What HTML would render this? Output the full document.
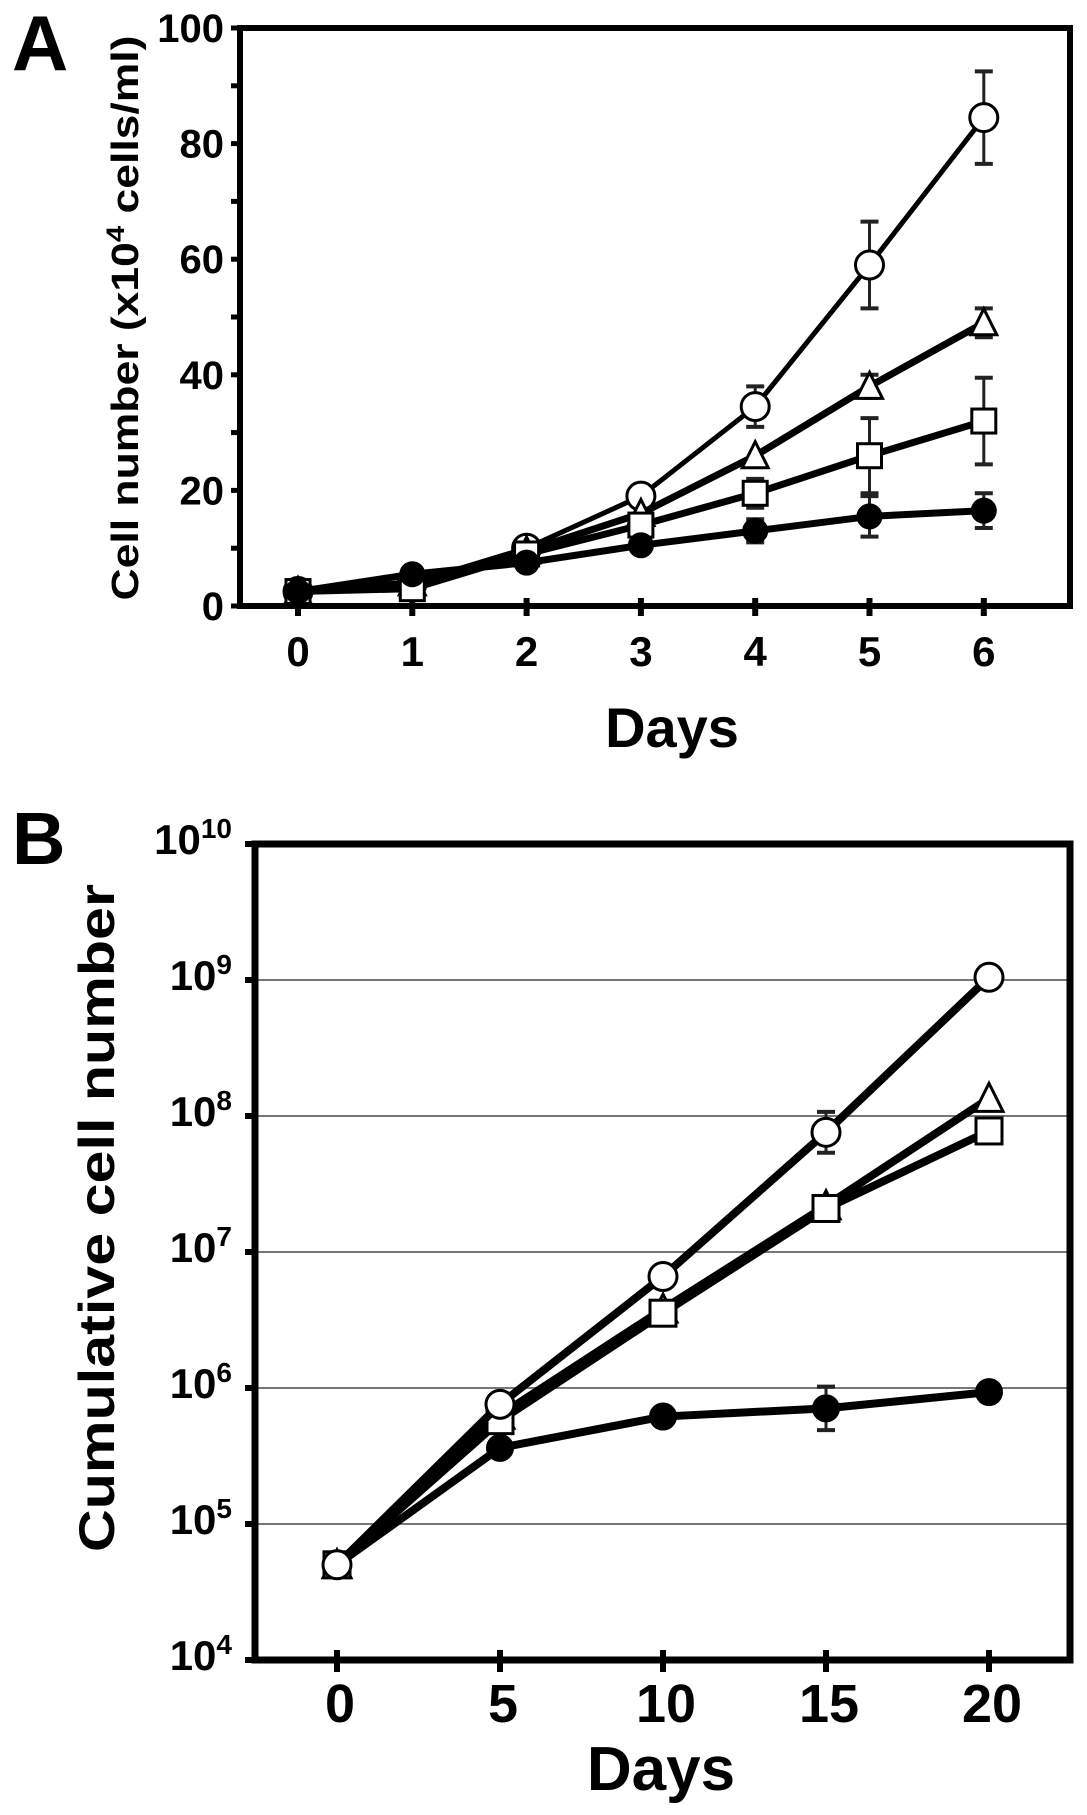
<!DOCTYPE html>
<html><head><meta charset="utf-8"><style>
html,body{margin:0;padding:0;background:#fff}
svg{display:block;font-family:"Liberation Sans",Arial,sans-serif;font-weight:bold}
</style></head><body>
<svg id="fig" width="1087" height="1815" viewBox="0 0 1087 1815" xmlns="http://www.w3.org/2000/svg">
<text x="12" y="70" font-size="78">A</text>
<text x="12" y="864" font-size="74">B</text>
<g id="gA"></g>
<g id="gB"></g>
</svg>
<script>
// Panel A data
const daysA = [0,1,2,3,4,5,6];
const aYTicks = [0,20,40,60,80,100];
const aCircle = [2.5,4,10,19,34.5,59,84.5];
const aCircleErr = [0,0,0,0,3.5,7.5,8];
const aTriangle = [2.5,4,9.5,16,26,38,49];
const aTriangleErr = [0,0,0,0,0,2,2.5];
const aSquare = [2.5,3,9,14,19.5,26,32];
const aSquareErr = [0,0,0,0,2.5,6.5,7.5];
const aFilled = [2.5,5.5,7.5,10.5,13,15.5,16.5];
const aFilledErr = [0,0,0,0,2,3.5,3];
// Panel B data (log10 of cumulative cell number)
const daysB = [0,5,10,15,20];
const bYTicks = [4,5,6,7,8,9,10];
const bCircle = [4.7,5.88,6.82,7.88,9.02];
const bCircleErr = [0,0,0,0.15,0];
const bTriangle = [4.7,5.8,6.58,7.34,8.13];
const bSquare = [4.7,5.76,6.55,7.32,7.89];
const bFilled = [4.7,5.56,5.79,5.85,5.97];
const bFilledErr = [0,0,0,0.16,0];

const NS="http://www.w3.org/2000/svg";
function mk(parent,tag,attrs){const e=document.createElementNS(NS,tag);for(const k in attrs)e.setAttribute(k,attrs[k]);parent.appendChild(e);return e;}

// ---------- Panel A ----------
const gA=document.getElementById('gA');
const AL=240,AR=1070,AT=28,AB=606;
const ax=d=>298+d*114.3;
const ay=v=>606-v*5.78;
let f=mk(gA,'rect',{x:AL,y:AT,width:AR-AL,height:AB-AT,fill:'none',stroke:'#000','stroke-width':6});


for(let v=0;v<=100;v+=10){
  const t=mk(gA,'line',{x1:AL-9,x2:AL,y1:ay(v),y2:ay(v),stroke:'#000','stroke-width':5});
  
  
}
aYTicks.forEach(v=>{
  const t=mk(gA,'text',{x:224,y:ay(v)+14,'font-size':40,'text-anchor':'end'});t.textContent=v;
  
  
});
daysA.forEach(d=>{
  const t=mk(gA,'line',{x1:ax(d),x2:ax(d),y1:AB-8,y2:AB+10,stroke:'#000','stroke-width':6});
  
  
  const l=mk(gA,'text',{x:ax(d),y:666,'font-size':42,'text-anchor':'middle'});l.textContent=d;
  
  
});
let xt=mk(gA,'text',{x:672,y:747,'font-size':56,'text-anchor':'middle'});xt.textContent='Days';


let yt=mk(gA,'text',{x:0,y:0,'font-size':38,'text-anchor':'middle',transform:'translate(138,318) rotate(-90)',textLength:565,lengthAdjust:'spacingAndGlyphs'});
yt.innerHTML='Cell number (x10<tspan dy="-14" font-size="25">4</tspan><tspan dy="14"> cells/ml)</tspan>';



function series(g,xs,vals,errs,xf,yf,shape,name,lw,r){
  const sg=mk(g,'g',{});
  
  
  if(errs){xs.forEach((d,i)=>{if(errs[i]>0){
    const x=xf(d),y1=yf(vals[i]-errs[i]),y2=yf(vals[i]+errs[i]);
    mk(sg,'line',{x1:x,x2:x,y1:y1,y2:y2,stroke:'#222','stroke-width':3});
    mk(sg,'line',{x1:x-9,x2:x+9,y1:y1,y2:y1,stroke:'#222','stroke-width':4});
    mk(sg,'line',{x1:x-9,x2:x+9,y1:y2,y2:y2,stroke:'#222','stroke-width':4});
  }});}
  const pts=xs.map((d,i)=>xf(d)+','+yf(vals[i])).join(' ');
  const pl=mk(sg,'polyline',{points:pts,fill:'none',stroke:'#000','stroke-width':lw,'stroke-linejoin':'round'});
  
  
  xs.forEach((d,i)=>{
    const x=xf(d),y=yf(vals[i]);let m;
    if(shape==='circle')m=mk(sg,'circle',{cx:x,cy:y,r:r,fill:'#fff',stroke:'#000','stroke-width':3});
    else if(shape==='filled')m=mk(sg,'circle',{cx:x,cy:y,r:r,fill:'#000',stroke:'#000','stroke-width':2});
    else if(shape==='square')m=mk(sg,'rect',{x:x-r,y:y-r,width:2*r,height:2*r,fill:'#fff',stroke:'#000','stroke-width':3});
    else m=mk(sg,'polygon',{points:`${x},${y-r-2} ${x-r-1},${y+r} ${x+r+1},${y+r}`,fill:'#fff',stroke:'#000','stroke-width':3});
    
    
  });
}
series(gA,daysA,aCircle,aCircleErr,ax,ay,'circle','a-open-circle-series',5,14);
series(gA,daysA,aTriangle,aTriangleErr,ax,ay,'triangle','a-triangle-series',7,12);
series(gA,daysA,aSquare,aSquareErr,ax,ay,'square','a-square-series',7,12);
series(gA,daysA,aFilled,aFilledErr,ax,ay,'filled','a-filled-circle-series',7,12);

// ---------- Panel B ----------
const gB=document.getElementById('gB');
const BL=255,BR=1070,BT=844,BB=1660;
const bx=d=>337+d*32.6;
const by=v=>1660-(v-4)*136;
bYTicks.forEach(v=>{
  if(v>4&&v<10){const gl=mk(gB,'line',{x1:BL,x2:BR,y1:by(v),y2:by(v),stroke:'#777','stroke-width':2});
  
  }
  const tk=mk(gB,'line',{x1:BL-10,x2:BL,y1:by(v),y2:by(v),stroke:'#000','stroke-width':6});
  
  
  const t=mk(gB,'text',{x:232,y:by(v)+10,'font-size':42,'text-anchor':'end'});
  t.innerHTML='10<tspan dy="-16" font-size="28">'+v+'</tspan>';
  
  
});
f=mk(gB,'rect',{x:BL,y:BT,width:BR-BL,height:BB-BT,fill:'none',stroke:'#000','stroke-width':7});


daysB.forEach(d=>{
  const t=mk(gB,'line',{x1:bx(d),x2:bx(d),y1:BB-10,y2:BB+12,stroke:'#000','stroke-width':6});
  
  
  const l=mk(gB,'text',{x:bx(d)+3,y:1722,'font-size':54,'text-anchor':'middle'});l.textContent=d;
  
  
});
xt=mk(gB,'text',{x:661,y:1790,'font-size':62,'text-anchor':'middle'});xt.textContent='Days';


yt=mk(gB,'text',{x:0,y:0,'font-size':50,'text-anchor':'middle',transform:'translate(114,1218) rotate(-90)',textLength:668,lengthAdjust:'spacingAndGlyphs'});
yt.textContent='Cumulative cell number';


series(gB,daysB,bFilled,bFilledErr,bx,by,'filled','b-filled-circle-series',8,13);
series(gB,daysB,bTriangle,null,bx,by,'triangle','b-triangle-series',8,13);
series(gB,daysB,bSquare,null,bx,by,'square','b-square-series',8,13);
series(gB,daysB,bCircle,bCircleErr,bx,by,'circle','b-open-circle-series',8,14);
</script>
</body></html>
